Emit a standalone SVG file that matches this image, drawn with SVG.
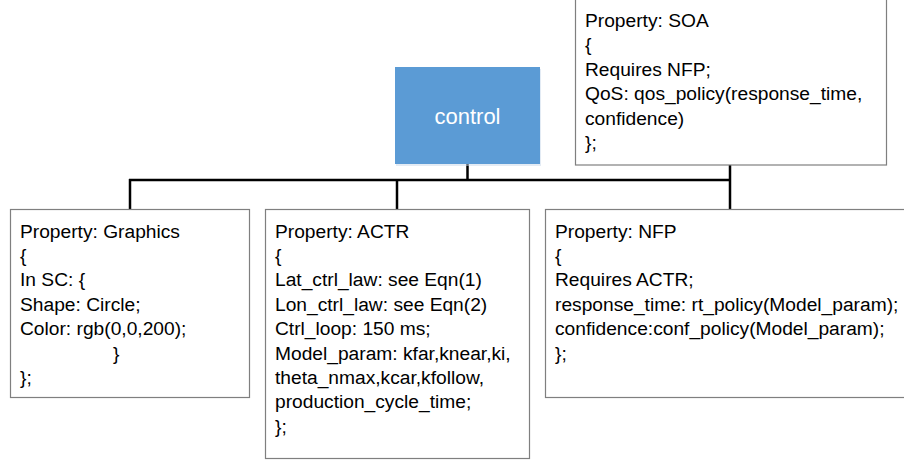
<svg xmlns="http://www.w3.org/2000/svg" width="904" height="461" viewBox="0 0 904 461">
<style>
  .box { fill: #ffffff; stroke: #7f7f7f; stroke-width: 1.2; }
  .txt { font-family: "Liberation Sans", Arial, sans-serif; font-size: 19.2px; fill: #000000; }
  .conn { stroke: #000000; stroke-width: 2.5; fill: none; }
  .ctl { fill: #5B9BD5; }
  .ctltxt { font-family: "Liberation Sans", Arial, sans-serif; font-size: 22px; fill: #ffffff; text-anchor: middle; }
</style>
<rect width="904" height="461" fill="#ffffff"/>
<g id="connectors">
  <line class="conn" x1="467.5" y1="164" x2="467.5" y2="180"/>
  <line class="conn" x1="129" y1="180" x2="731" y2="180"/>
  <line class="conn" x1="130" y1="179" x2="130" y2="209"/>
  <line class="conn" x1="397" y1="180" x2="397" y2="209"/>
  <line class="conn" x1="730" y1="165" x2="730" y2="209"/>
</g>
<g id="control">
  <rect x="396" y="69" width="145" height="97" fill="#c8d8ea" opacity="0.5"/>
  <rect class="ctl" x="395" y="67" width="145" height="97"/>
  <text class="ctltxt" x="467.5" y="124">control</text>
</g>
<g id="soa">
  <rect class="box" x="575.5" y="-5" width="311" height="170"/>
  <text class="txt" x="585" y="27">Property: SOA</text>
  <text class="txt" x="585" y="51.4">{</text>
  <text class="txt" x="585" y="75.8">Requires NFP;</text>
  <text class="txt" x="585" y="100.2">QoS: qos_policy(response_time,</text>
  <text class="txt" x="585" y="124.6">confidence)</text>
  <text class="txt" x="585" y="149">};</text>
</g>
<g id="graphics">
  <rect class="box" x="10.5" y="209.5" width="239" height="188"/>
  <text class="txt" x="20" y="237.5">Property: Graphics</text>
  <text class="txt" x="20" y="261.9">{</text>
  <text class="txt" x="20" y="286.3">In SC: {</text>
  <text class="txt" x="20" y="310.7">Shape: Circle;</text>
  <text class="txt" x="20" y="335.1">Color: rgb(0,0,200);</text>
  <text class="txt" x="113" y="359.5">}</text>
  <text class="txt" x="20" y="383.9">};</text>
</g>
<g id="actr">
  <rect class="box" x="265.5" y="209.5" width="264" height="249"/>
  <text class="txt" x="275" y="237.5">Property: ACTR</text>
  <text class="txt" x="275" y="261.9">{</text>
  <text class="txt" x="275" y="286.3">Lat_ctrl_law: see Eqn(1)</text>
  <text class="txt" x="275" y="310.7">Lon_ctrl_law: see Eqn(2)</text>
  <text class="txt" x="275" y="335.1">Ctrl_loop: 150 ms;</text>
  <text class="txt" x="275" y="359.5">Model_param: kfar,knear,ki,</text>
  <text class="txt" x="275" y="383.9">theta_nmax,kcar,kfollow,</text>
  <text class="txt" x="275" y="408.3">production_cycle_time;</text>
  <text class="txt" x="275" y="432.7">};</text>
</g>
<g id="nfp">
  <rect class="box" x="545.5" y="209.5" width="370" height="188"/>
  <text class="txt" x="555" y="237.5">Property: NFP</text>
  <text class="txt" x="555" y="261.9">{</text>
  <text class="txt" x="555" y="286.3">Requires ACTR;</text>
  <text class="txt" x="555" y="310.7">response_time: rt_policy(Model_param);</text>
  <text class="txt" x="555" y="335.1">confidence:conf_policy(Model_param);</text>
  <text class="txt" x="555" y="359.5">};</text>
</g>
</svg>
